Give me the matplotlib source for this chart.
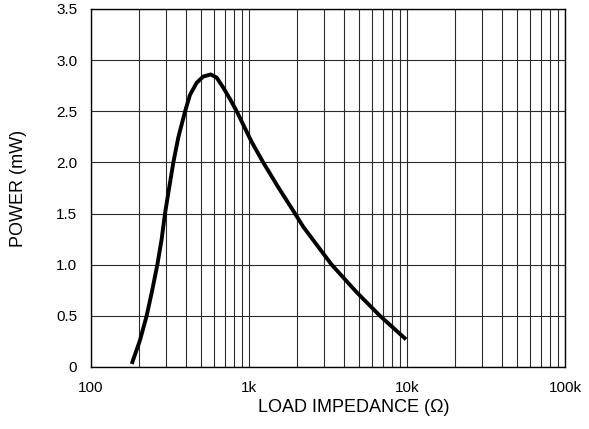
import matplotlib
matplotlib.use("Agg")
import matplotlib.pyplot as plt
from matplotlib.ticker import FixedLocator, NullFormatter

plt.rcParams['font.family'] = ['Liberation Sans', 'DejaVu Sans']

# Data
impedance = [181, 204, 225, 244, 263, 280, 294, 313, 332, 357, 394, 423, 467, 514,
             572, 624, 688, 758, 836, 899, 1040, 1230, 1532, 1955, 2207, 2494, 3337,
             4806, 6745, 9860]
power = [0.03, 0.26, 0.50, 0.75, 1.00, 1.25, 1.50, 1.76, 2.00, 2.245, 2.50, 2.66, 2.78, 2.84,
         2.86, 2.83, 2.73, 2.62, 2.50, 2.40, 2.20, 2.00, 1.757, 1.50, 1.37, 1.26, 1.00,
         0.73, 0.50, 0.27]

x_ticks = [100, 1000, 10000, 100000]
x_tick_labels = ["100", "1k", "10k", "100k"]
y_ticks = [0, 0.5, 1.0, 1.5, 2.0, 2.5, 3.0, 3.5]
y_tick_labels = ["0", "0.5", "1.0", "1.5", "2.0", "2.5", "3.0", "3.5"]

fig = plt.figure(figsize=(5.89, 4.29), dpi=100)
ax = fig.add_axes([91/589, 1 - 367/429, 474/589, 358/429])

ax.set_xscale('log')
ax.set_xlim(100, 100000)
ax.set_ylim(0, 3.5)

minor = [m * d for d in (100, 1000, 10000) for m in range(2, 10)]
ax.xaxis.set_major_locator(FixedLocator(x_ticks))
ax.set_xticklabels(x_tick_labels)
ax.xaxis.set_minor_locator(FixedLocator(minor))
ax.xaxis.set_minor_formatter(NullFormatter())
ax.set_yticks(y_ticks)
ax.set_yticklabels(y_tick_labels)

ax.grid(True, which='both', axis='x', color='#2a2a2a', linewidth=0.8)
ax.grid(True, which='major', axis='y', color='#2a2a2a', linewidth=0.8)
ax.set_axisbelow(True)

ax.tick_params(axis='both', which='both', length=0, labelsize=11, pad=10, colors='black')

for s in ax.spines.values():
    s.set_color('black')
    s.set_linewidth(1.0)

ax.plot(impedance, power, color='black', linewidth=2.8, solid_joinstyle='round',
        solid_capstyle='butt')

ax.set_xlabel("LOAD IMPEDANCE (\u03a9)", fontsize=13)
ax.set_ylabel("POWER (mW)", fontsize=13)
ax.xaxis.set_label_coords((354 - 91) / 474, (367 - 399) / 358)
ax.yaxis.set_label_coords((27 - 91) / 474, 0.5)

fig.savefig("out.png", dpi=100)
